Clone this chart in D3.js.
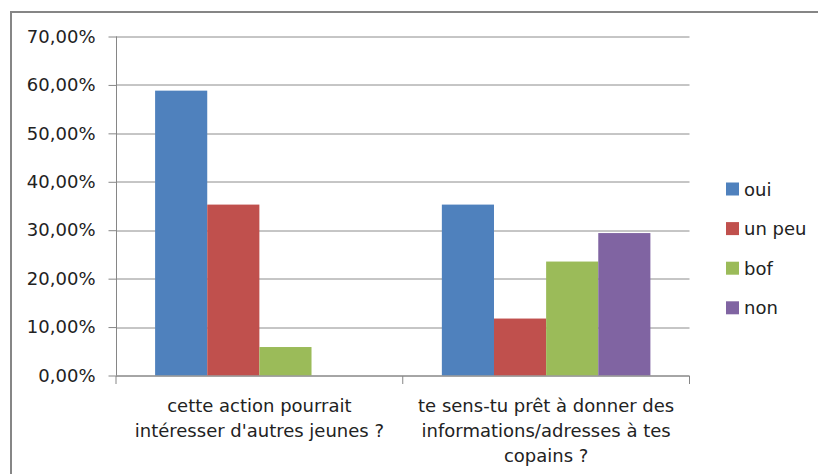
<!DOCTYPE html>
<html>
<head>
<meta charset="utf-8">
<script src="https://cdn.jsdelivr.net/npm/d3@7"></script>
<style>
  body { margin: 0; background: #fff; }
  svg text { font-family: "DejaVu Sans", sans-serif; fill: #222; }
</style>
</head>
<body>
<div id="chart"></div>
<script>
// data
let categories = [
  ["cette action pourrait", "intéresser d'autres jeunes ?"],
  ["te sens-tu prêt à donner des", "informations/adresses à tes", "copains ?"]
]
let series = ["oui", "un peu", "bof", "non"]
let oui = [0.5882, 0.3529]
let unPeu = [0.3529, 0.1176]
let bof = [0.0588, 0.2353]
let non = [0, 0.2941]
let yTicks = [0, 0.1, 0.2, 0.3, 0.4, 0.5, 0.6, 0.7]

let colors = ["#4f81bd", "#c0504d", "#9bbb59", "#8064a2"]
let values = [oui, unPeu, bof, non]

let width = 818, height = 474
let margin = {top: 36.5, left: 116, right: 128.5, bottom: 98.5}
let w = width - margin.left - margin.right
let h = height - margin.top - margin.bottom

let svg = d3.select("#chart").append("svg")
  .attr("width", width)
  .attr("height", height)

// outer frame
svg.append("rect")
  .attr("x", 11).attr("y", 12)
  .attr("width", 900).attr("height", 600)
  .attr("fill", "none")
  .attr("stroke", "#868686")
  .attr("stroke-width", 2)

let g = svg.append("g")
  .attr("transform", "translate(" + margin.left + "," + margin.top + ")")

// SCALES
let x0 = d3.scaleBand()
  .domain(d3.range(categories.length))
  .range([0, w])

let x1 = d3.scaleBand()
  .domain(series)
  .range([0, x0.bandwidth()])
  .paddingInner(0)
  .paddingOuter(0.75)

let yScale = d3.scaleLinear()
  .domain([0, 0.7])
  .range([h, 0])

// gridlines
g.append("g")
  .selectAll("line")
  .data(yTicks)
  .join("line")
  .attr("x1", 0).attr("x2", w)
  .attr("y1", d => Math.round(yScale(d)) + 0.5)
  .attr("y2", d => Math.round(yScale(d)) + 0.5)
  .attr("stroke", "#8c8c8c")

// BARS
let groups = g.selectAll(".grp")
  .data(categories.map((c, i) => i))
  .join("g")
  .attr("class", "grp")
  .attr("transform", d => "translate(" + x0(d) + ",0)")

groups.selectAll("rect")
  .data(i => series.map((s, j) => ({s: s, j: j, v: values[j][i]})).filter(d => d.v > 0))
  .join("rect")
  .attr("x", d => x1(d.s))
  .attr("width", x1.bandwidth())
  .attr("y", d => yScale(d.v))
  .attr("height", d => h - yScale(d.v))
  .attr("fill", d => colors[d.j])

// AXES
let yAxis = d3.axisLeft(yScale)
  .tickValues(yTicks)
  .tickSize(8)
  .tickPadding(13)
  .tickFormat(d => d3.format(".2f")(d * 100).replace(".", ",") + "%")

let ya = g.append("g")
  .attr("transform", "translate(0.5,0)")
  .call(yAxis)
ya.selectAll("line, path").attr("stroke", "#868686")
ya.select(".domain").attr("d", "M0,0V" + h)
ya.selectAll("text").style("font-size", "18px").attr("fill", "#222")

let xa = g.append("g")
  .attr("transform", "translate(0," + (Math.round(h) + 0.5) + ")")
xa.append("line")
  .attr("x1", 0).attr("x2", w)
  .attr("stroke", "#868686")
xa.selectAll(".tk")
  .data(d3.range(categories.length + 1))
  .join("line")
  .attr("class", "tk")
  .attr("x1", d => d === categories.length ? w : x0(d))
  .attr("x2", d => d === categories.length ? w : x0(d))
  .attr("y1", 0).attr("y2", 8)
  .attr("stroke", "#868686")

xa.selectAll(".lbl")
  .data(categories)
  .join("text")
  .attr("class", "lbl")
  .attr("text-anchor", "middle")
  .attr("transform", (d, i) => "translate(" + (x0(i) + x0.bandwidth() / 2) + ",0)")
  .style("font-size", "18px")
  .selectAll("tspan")
  .data(d => d)
  .join("tspan")
  .attr("x", 0)
  .attr("y", (d, i) => 36 + i * 25)
  .text(d => d)

// LEGEND
let legend = svg.append("g")
  .attr("transform", "translate(726,189)")

let li = legend.selectAll("g")
  .data(series)
  .join("g")
  .attr("transform", (d, i) => "translate(0," + (i * 39.6) + ")")

li.append("rect")
  .attr("x", 0).attr("y", -6.5)
  .attr("width", 13).attr("height", 13)
  .attr("fill", (d, i) => colors[i])

li.append("text")
  .attr("x", 18)
  .attr("y", 6.5)
  .style("font-size", "18px")
  .text(d => d)
</script>
</body>
</html>
